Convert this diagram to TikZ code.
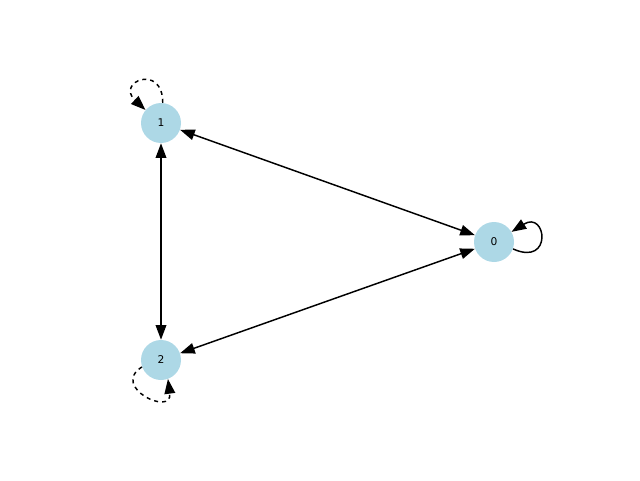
\documentclass[tikz,border=0pt]{standalone}
\usepackage{fontspec}
\setmainfont{DejaVu Sans}
\usetikzlibrary{arrows.meta}
\begin{document}
\begin{tikzpicture}[x=0.75pt,y=0.75pt,
  vtx/.style={circle,fill=cyan!20!blue!10!white,fill={rgb,255:red,173;green,216;blue,230},minimum size=30pt,inner sep=0pt,font=\fontsize{8pt}{9pt}\selectfont},
  tip/.style={-{Triangle[length=11pt,width=8pt]}},
  both/.style={{Triangle[length=11pt,width=8pt]}-{Triangle[length=11pt,width=8pt]}},
  edge/.style={line width=1.1pt,black}]
\useasboundingbox (0,0) rectangle (640,480);
\node[vtx] (n1) at (161,357) {1};
\node[vtx] (n2) at (161,120) {2};
\node[vtx] (n0) at (494,238) {0};
\draw[edge,both] (n1) -- (n0);
\draw[edge,both] (n2) -- (n0);
\draw[edge,both] (n1) -- (n2);
\draw[edge,tip,dashed] (n1.85) .. controls +(0,40) and +(-30,28) .. (n1.140);
\draw[edge,tip,dashed] (n2.200) .. controls +(-32,-20) and +(5,-38) .. (n2.-70);
\draw[edge,tip] (n0.-20) .. controls +(40,-18) and +(35,22) .. (n0.30);
\end{tikzpicture}
\end{document}
